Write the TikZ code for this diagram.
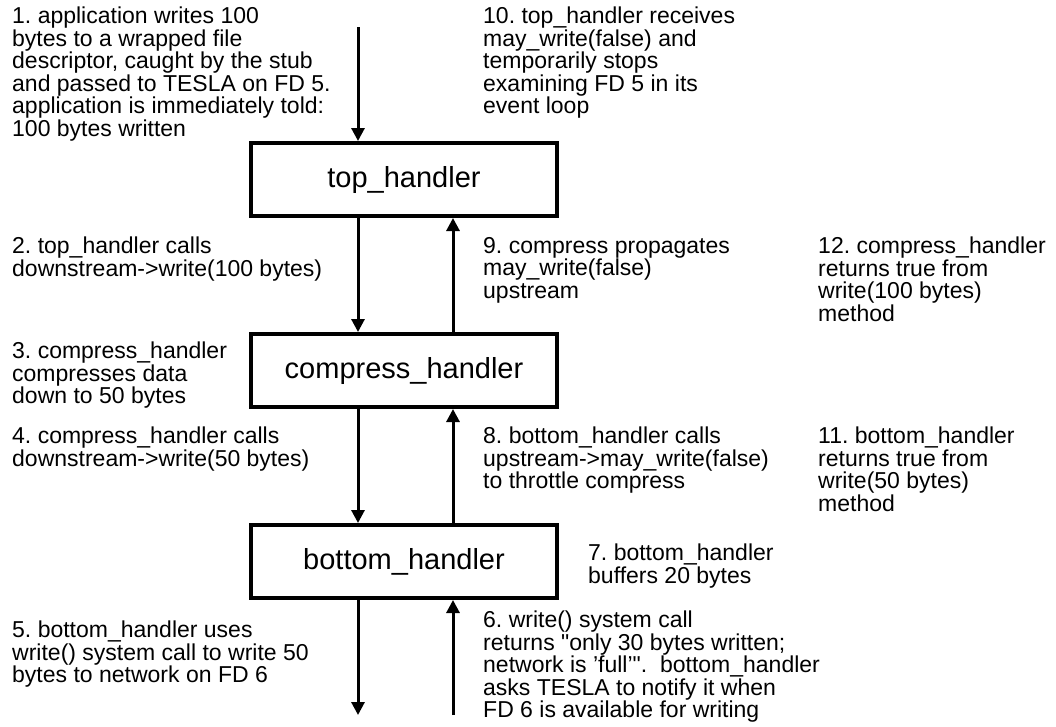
\documentclass[tikz,border=0pt]{standalone}
\usepackage{fontspec}
\setmainfont{Liberation Sans}[Ligatures=TeXOff]
\usetikzlibrary{arrows.meta}
\frenchspacing

\tikzset{
  handler/.style={draw, line width=4pt, minimum width=306pt, minimum height=73pt,
    inner sep=0pt, font=\fontsize{29}{32}\selectfont},
  note/.style={anchor=north west, align=left, inner sep=0pt,
    font=\fontsize{23}{22.5}\selectfont},
  flow/.style={line width=3pt, -{Triangle[length=13pt, width=13pt]}},
}

\begin{document}
\begin{tikzpicture}[x=1pt, y=-1pt]
\useasboundingbox (0,0) rectangle (1056,726);

% the three stacked handlers
\node[handler] (top) at (404,179.5) {top\_handler};
\node[handler] (cmp) at (404,370.5) {compress\_handler};
\node[handler] (bot) at (404,561.5) {bottom\_handler};

% columns of the downward and upward connectors
\coordinate (dn) at (358,0);
\coordinate (up) at (453,0);
\coordinate (app) at (358,27);
\coordinate (netout) at (358,715);
\coordinate (netin) at (453,715);

% downward path: application -> network
\draw[flow] (app) -- (top.north -| dn);
\draw[flow] (top.south -| dn) -- (cmp.north -| dn);
\draw[flow] (cmp.south -| dn) -- (bot.north -| dn);
\draw[flow] (bot.south -| dn) -- (netout);

% upward path: network -> application
\draw[flow] (netin) -- (bot.south -| up);
\draw[flow] (bot.north -| up) -- (cmp.south -| up);
\draw[flow] (cmp.north -| up) -- (top.south -| up);

% numbered steps
\node[note] (s1) at (12,7) {1. application writes 100\\bytes to a wrapped file\\descriptor, caught by the stub\\and passed to TESLA on FD 5.\\application is immediately told:\\100 bytes written};
\node[note] (s10) at (483,7) {10. top\_handler receives\\may\_write(false) and\\temporarily stops\\examining FD 5 in its\\event loop};
\node[note] (s2) at (12,237) {2. top\_handler calls\\downstream->write(100 bytes)};
\node[note] (s9) at (483,237) {9. compress propagates\\may\_write(false)\\upstream};
\node[note] (s12) at (818,237) {12. compress\_handler\\returns true from\\write(100 bytes)\\method};
\node[note] (s3) at (12,342) {3. compress\_handler\\compresses data\\down to 50 bytes};
\node[note] (s4) at (12,427) {4. compress\_handler calls\\downstream->write(50 bytes)};
\node[note] (s8) at (483,427) {8. bottom\_handler calls\\upstream->may\_write(false)\\to throttle compress};
\node[note] (s11) at (818,427) {11. bottom\_handler\\returns true from\\write(50 bytes)\\method};
\node[note] (s7) at (588,544) {7. bottom\_handler\\buffers 20 bytes};
\node[note] (s6) at (483,611) {6. write() system call\\returns "only 30 bytes written;\\network is ’full’".~~bottom\_handler\\asks TESLA to notify it when\\FD 6 is available for writing};
\node[note] (s5) at (12,621) {5. bottom\_handler uses\\write() system call to write 50\\bytes to network on FD 6};
\end{tikzpicture}
\end{document}
